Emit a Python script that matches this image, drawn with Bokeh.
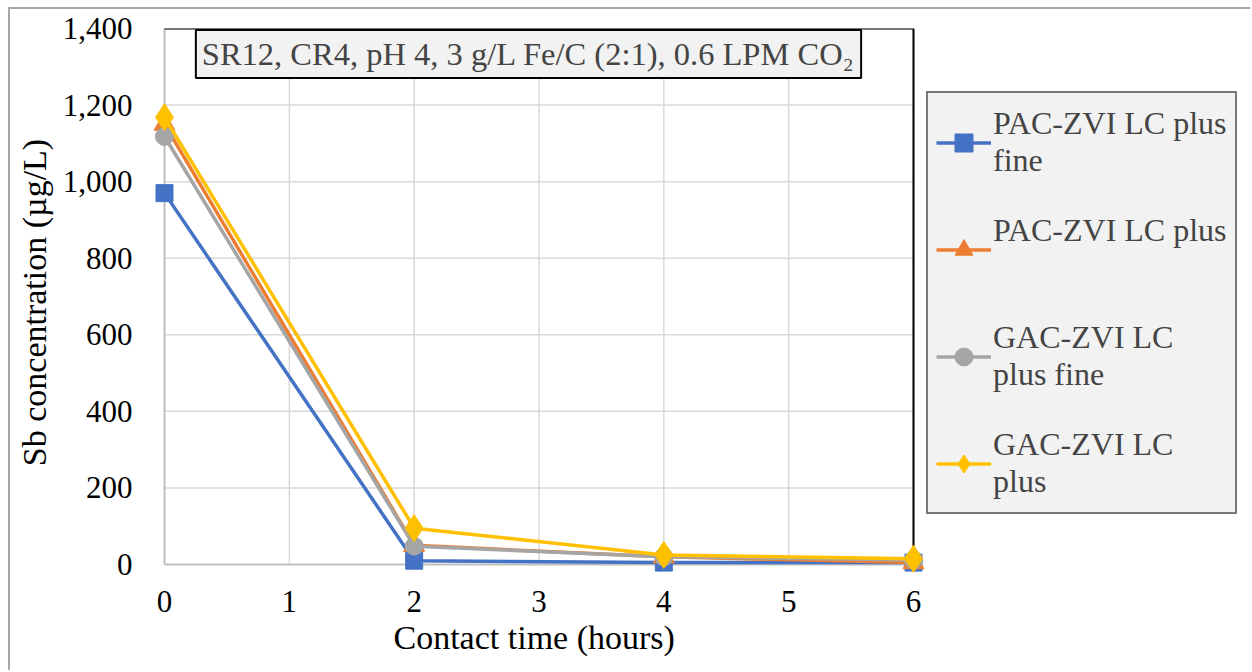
from bokeh.plotting import figure
from bokeh.models import (Legend, LegendItem, Label, Title, FixedTicker, NumeralTickFormatter, Range1d)
from bokeh.embed import file_html
from bokeh.resources import INLINE

time_h = [0, 2, 4, 6]
pac_fine = [970, 10, 5, 5]
pac_plus = [1150, 50, 20, 5]
gac_fine = [1118, 48, 20, 12]
gac_plus = [1168, 95, 25, 15]
series_names = ["PAC-ZVI LC plus\nfine", "PAC-ZVI LC plus\n ", "GAC-ZVI LC\nplus fine", "GAC-ZVI LC\nplus"]
y_ticks = [0, 200, 400, 600, 800, 1000, 1200, 1400]
x_ticks = [0, 1, 2, 3, 4, 5, 6]
title_text = "SR12, CR4, pH 4, 3 g/L Fe/C (2:1), 0.6 LPM CO\u2082"
x_title = "Contact time (hours)"
y_title = "Sb concentration (µg/L)"

FONT = "Liberation Serif"
X0, X1 = x_ticks[0], x_ticks[-1]
Y0, Y1 = y_ticks[0], y_ticks[-1]

# frame spans page x 152..1250, y 28..576 ; data x 0->164, 6->913 ; y 0->564, 1400->28
p = figure(width=1242, height=663, output_backend="svg", toolbar_location=None,
           x_range=Range1d(X0 - 0.0961, X1 + 2.6997), y_range=Range1d(Y0 - 31.3, Y1),
           min_border_left=142, min_border_right=2, min_border_top=19, min_border_bottom=96)
p.margin = (7, 0, 0, 8)
p.styles = {"border-top": "2px solid #a6a6a6", "border-left": "2px solid #a6a6a6"}
p.outline_line_color = None

p.xaxis.ticker = FixedTicker(ticks=x_ticks)
p.yaxis.ticker = FixedTicker(ticks=y_ticks)
p.yaxis.formatter = NumeralTickFormatter(format="0,0")
for ax in (p.xaxis[0], p.yaxis[0]):
    ax.axis_line_color = None
    ax.major_tick_line_color = None
    ax.minor_tick_line_color = None
    ax.major_label_text_font = FONT
    ax.major_label_text_font_size = "31px"
    ax.major_label_text_color = "black"
    ax.axis_label_text_font = FONT
    ax.axis_label_text_font_size = "34px"
    ax.axis_label_text_font_style = "normal"
    ax.axis_label_text_color = "black"
p.yaxis.axis_label = y_title
p.xaxis.major_label_standoff = 8
p.yaxis.major_label_standoff = 14
p.yaxis.axis_label_standoff = 7

p.xgrid.grid_line_color = None
p.ygrid.grid_line_color = None

# grid lines limited to the plotted region
p.segment(x0=x_ticks[1:], x1=x_ticks[1:], y0=[Y0] * (len(x_ticks) - 1), y1=[Y1] * (len(x_ticks) - 1),
          line_color="#d9d9d9", line_width=1.5)
p.segment(x0=[X0] * (len(y_ticks) - 1), x1=[X1] * (len(y_ticks) - 1), y0=y_ticks[1:], y1=y_ticks[1:],
          line_color="#d9d9d9", line_width=1.5)
# axis lines and plot-area border
p.segment(x0=[X0, X0], x1=[X0, X1], y0=[Y0, Y0], y1=[Y1, Y0], line_color="#bfbfbf", line_width=2)
p.segment(x0=[X0, X1], x1=[X1, X1], y0=[Y1, Y0], y1=[Y1, Y1], line_color="black", line_width=2)

colors = ["#4472C4", "#ED7D31", "#A5A5A5", "#FFC000"]
items = []
specs = [(pac_fine, "square", 17), (pac_plus, "triangle", 21), (gac_fine, "circle", 18), (gac_plus, "diamond", 27)]
for (vals, mk, sz), c, name in zip(specs, colors, series_names):
    l = p.line(time_h, vals, line_color=c, line_width=3.5)
    m = p.scatter(time_h, vals, marker=mk, size=sz, fill_color=c, line_color=c)
    items.append(LegendItem(label=name, renderers=[l, m]))

legend = Legend(items=items, location=(774, 62))
legend.background_fill_color = "#f2f2f2"
legend.background_fill_alpha = 1
legend.border_line_color = "black"
legend.border_line_width = 2
legend.label_text_font = FONT
legend.label_text_font_size = "32px"
legend.label_text_line_height = 1.1
legend.label_height = 82
legend.glyph_width = 55
legend.glyph_height = 45
legend.label_standoff = 2
legend.padding = 8
legend.spacing = 25
legend.margin = 0
p.add_layout(legend, "center")

title = Label(x=528 - 152, y=576 - 53.5, x_units="screen", y_units="screen", text=title_text,
              text_font=FONT, text_font_size="32.5px", text_align="center", text_baseline="middle",
              background_fill_color="#f2f2f2", border_line_color="black", border_line_width=2,
              padding=6)
p.add_layout(title)

xlab = Title(text=x_title, align="left", offset=241, standoff=4,
             text_font=FONT, text_font_size="34px", text_font_style="normal", text_color="black")
p.add_layout(xlab, "below")

open("out.html", "w").write(file_html(p, INLINE))
